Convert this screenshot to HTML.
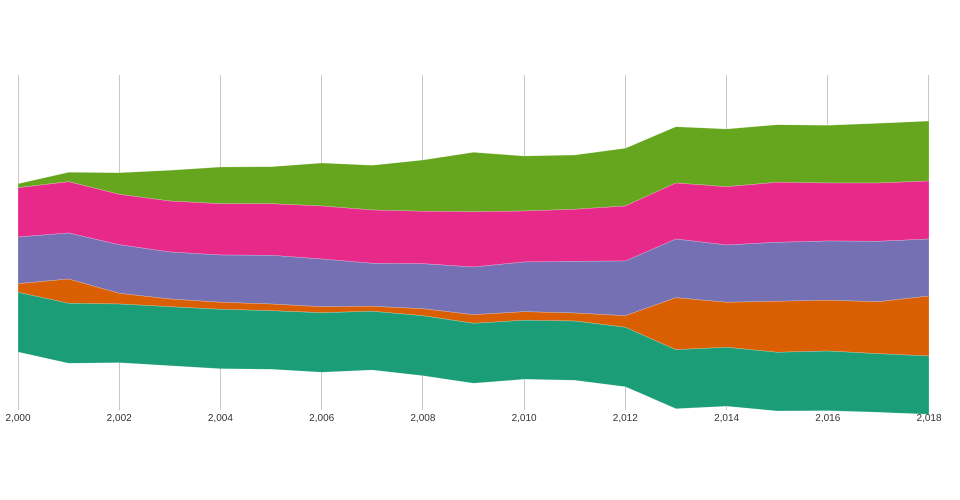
<!DOCTYPE html>
<html><head><meta charset="utf-8"><style>
html,body{margin:0;padding:0;background:#fff;}
svg{display:block;}
text{font-family:"Liberation Sans",sans-serif;font-size:10px;fill:#333;}
</style></head><body>
<svg width="960" height="500" viewBox="0 0 960 500">
<g stroke="#c8c8c8" stroke-width="1">
<line x1="18.5" y1="75" x2="18.5" y2="410"/>
<line x1="119.5" y1="75" x2="119.5" y2="410"/>
<line x1="220.5" y1="75" x2="220.5" y2="410"/>
<line x1="321.5" y1="75" x2="321.5" y2="410"/>
<line x1="422.5" y1="75" x2="422.5" y2="410"/>
<line x1="524.5" y1="75" x2="524.5" y2="410"/>
<line x1="625.5" y1="75" x2="625.5" y2="410"/>
<line x1="726.5" y1="75" x2="726.5" y2="410"/>
<line x1="827.5" y1="75" x2="827.5" y2="410"/>
<line x1="928.5" y1="75" x2="928.5" y2="414"/>
</g>
<g stroke="#fff" stroke-width="0.4" stroke-opacity="0.5">
<polygon fill="#66a61e" points="18,183.7 68.6,172.3 119.2,172.7 169.8,170.3 220.4,167 271,166.7 321.7,163 372.3,165.3 422.9,160 473.5,152.3 524.1,156 574.7,155 625.3,148.3 675.9,126.7 726.6,129 777.2,124.7 827.8,125.3 878.4,123.3 929,121 929,181 878.4,183 827.8,183 777.2,182.3 726.6,186.7 675.9,183 625.3,206 574.7,209.3 524.1,211 473.5,211.7 422.9,211.3 372.3,210 321.7,206 271,203.7 220.4,203.7 169.8,201 119.2,194.3 68.6,181.7 18,187.7"/>
<polygon fill="#e7298a" points="18,187.7 68.6,181.7 119.2,194.3 169.8,201 220.4,203.7 271,203.7 321.7,206 372.3,210 422.9,211.3 473.5,211.7 524.1,211 574.7,209.3 625.3,206 675.9,183 726.6,186.7 777.2,182.3 827.8,183 878.4,183 929,181 929,239 878.4,241.3 827.8,241 777.2,242.3 726.6,245 675.9,239 625.3,261 574.7,261.3 524.1,262 473.5,267 422.9,263.7 372.3,263.3 321.7,259 271,255.3 220.4,255 169.8,252 119.2,244.7 68.6,233 18,237"/>
<polygon fill="#7570b3" points="18,237 68.6,233 119.2,244.7 169.8,252 220.4,255 271,255.3 321.7,259 372.3,263.3 422.9,263.7 473.5,267 524.1,262 574.7,261.3 625.3,261 675.9,239 726.6,245 777.2,242.3 827.8,241 878.4,241.3 929,239 929,296 878.4,301.7 827.8,300.3 777.2,301.3 726.6,302.3 675.9,297.7 625.3,315.7 574.7,313 524.1,311.7 473.5,314.7 422.9,308.7 372.3,306.3 321.7,306.7 271,304 220.4,302.3 169.8,299 119.2,293.3 68.6,279 18,283.7"/>
<polygon fill="#d95f02" points="18,283.7 68.6,279 119.2,293.3 169.8,299 220.4,302.3 271,304 321.7,306.7 372.3,306.3 422.9,308.7 473.5,314.7 524.1,311.7 574.7,313 625.3,315.7 675.9,297.7 726.6,302.3 777.2,301.3 827.8,300.3 878.4,301.7 929,296 929,356 878.4,353.7 827.8,351 777.2,352.3 726.6,347.3 675.9,349.7 625.3,327.3 574.7,321 524.1,320.3 473.5,323.3 422.9,315.7 372.3,311.3 321.7,312.7 271,310.7 220.4,309.3 169.8,306.7 119.2,304 68.6,303.3 18,292.3"/>
<polygon fill="#1b9e77" points="18,292.3 68.6,303.3 119.2,304 169.8,306.7 220.4,309.3 271,310.7 321.7,312.7 372.3,311.3 422.9,315.7 473.5,323.3 524.1,320.3 574.7,321 625.3,327.3 675.9,349.7 726.6,347.3 777.2,352.3 827.8,351 878.4,353.7 929,356 929,414.3 878.4,412.3 827.8,410.7 777.2,411 726.6,406.3 675.9,408.7 625.3,386.7 574.7,380.3 524.1,379.3 473.5,383.3 422.9,375.7 372.3,370 321.7,372.3 271,369.3 220.4,368.7 169.8,365.7 119.2,362.7 68.6,363.3 18,352"/>
</g>
<g text-anchor="middle">
<text x="18" y="421">2,000</text>
<text x="119.2" y="421">2,002</text>
<text x="220.4" y="421">2,004</text>
<text x="321.7" y="421">2,006</text>
<text x="422.9" y="421">2,008</text>
<text x="524.1" y="421">2,010</text>
<text x="625.3" y="421">2,012</text>
<text x="726.6" y="421">2,014</text>
<text x="827.8" y="421">2,016</text>
<text x="929" y="421">2,018</text>
</g>
</svg>
</body></html>
